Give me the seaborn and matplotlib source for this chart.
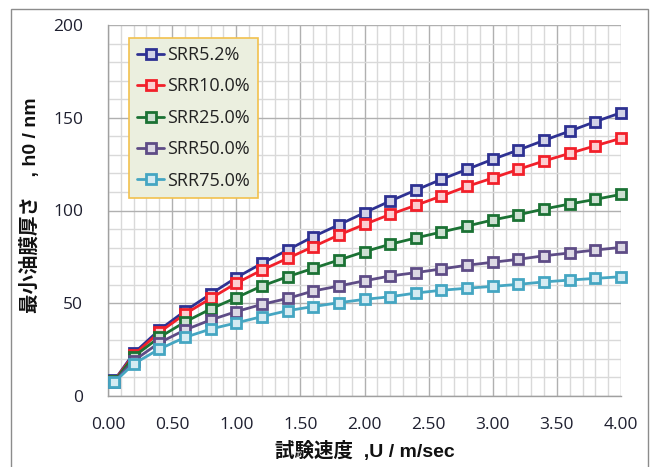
import numpy as np
import pandas as pd
import matplotlib
matplotlib.use("Agg")
import matplotlib.pyplot as plt
from matplotlib.patches import Rectangle
import matplotlib.colors as mcolors
import seaborn as sns

# ---- data ----
speed = [0.05, 0.2, 0.4, 0.6, 0.8, 1.0, 1.2, 1.4, 1.6, 1.8, 2.0,
         2.2, 2.4, 2.6, 2.8, 3.0, 3.2, 3.4, 3.6, 3.8, 4.0]
series_names = ["SRR5.2%", "SRR10.0%", "SRR25.0%", "SRR50.0%", "SRR75.0%"]
srr_5_2 = [8.5, 23.0, 35.6, 45.8, 55.0, 63.8, 71.5, 78.7, 85.9, 92.3, 98.8,
           105.1, 111.0, 116.8, 122.2, 127.6, 132.6, 137.8, 142.8, 147.9, 152.7]
srr_10 = [8.3, 22.1, 34.3, 44.2, 52.6, 60.8, 67.9, 74.2, 80.5, 86.8, 92.5,
          97.9, 102.8, 107.8, 113.0, 117.5, 122.2, 126.7, 130.8, 134.9, 138.9]
srr_25 = [8.0, 21.2, 31.6, 39.9, 46.9, 53.0, 59.3, 64.3, 68.8, 73.3, 77.8,
          81.8, 85.2, 88.4, 91.6, 94.9, 97.7, 100.8, 103.5, 106.0, 108.7]
srr_50 = [7.8, 19.0, 28.7, 35.6, 41.0, 45.5, 49.4, 52.6, 56.6, 59.3, 62.1,
          64.7, 66.5, 68.5, 70.5, 72.1, 73.7, 75.6, 77.1, 78.7, 80.1]
srr_75 = [7.5, 17.3, 25.3, 31.6, 36.1, 39.4, 42.8, 46.0, 48.2, 50.3, 52.1,
          53.5, 55.5, 57.0, 58.1, 59.1, 60.2, 61.5, 62.5, 63.4, 64.3]
all_series = [srr_5_2, srr_10, srr_25, srr_50, srr_75]

x_ticks = [0.0, 0.5, 1.0, 1.5, 2.0, 2.5, 3.0, 3.5, 4.0]
y_ticks = [0, 50, 100, 150, 200]
x_label = "試験速度  ,U / m/sec"
y_label = "最小油膜厚さ\u3000, h0 / nm"

colors = ["#2E3192", "#F2202A", "#1B7234", "#5E4C86", "#45A6C2"]

# ---- style ----
sns.set_style("white")
plt.rcParams["font.family"] = ["Open Sans", "Noto Sans CJK JP", "DejaVu Sans"]

fig = plt.figure(figsize=(6.54, 4.67), dpi=100)
ax = fig.add_axes([108 / 654, 71 / 467, 513 / 654, 371 / 467])

def tint(c, f=0.78):
    r, g, b = mcolors.to_rgb(c)
    return (r + (1 - r) * f, g + (1 - g) * f, b + (1 - b) * f)

for name, vals, c in zip(series_names, all_series, colors):
    df = pd.DataFrame({"speed": speed, "h0": vals})
    sns.lineplot(data=df, x="speed", y="h0", ax=ax, color=c, linewidth=2,
                 marker="s", markersize=6.5, markeredgewidth=2,
                 markeredgecolor=c, markerfacecolor=tint(c),
                 label=name, clip_on=False, zorder=3)

ax.set_xlim(0, 4)
ax.set_ylim(0, 200)
ax.set_xticks(x_ticks)
ax.set_xticklabels([f"{v:.2f}" for v in x_ticks])
ax.set_yticks(y_ticks)
ax.set_yticklabels([str(v) for v in y_ticks])
ax.set_xticks(np.arange(0, 4.0001, 0.1), minor=True)
ax.set_yticks(np.arange(0, 200.001, 10), minor=True)

ax.set_axisbelow(True)
ax.grid(which="minor", color="#D9D9D9", linewidth=1)
ax.grid(which="major", color="#B0B0B0", linewidth=1)

for s in ["top", "right"]:
    ax.spines[s].set_visible(False)
for s in ["left", "bottom"]:
    ax.spines[s].set_color("#A0A0A0")
    ax.spines[s].set_linewidth(1)

ax.tick_params(which="major", direction="out", length=5, width=1,
               color="#A0A0A0", labelsize=12.5, labelcolor="#1F2030")
ax.tick_params(which="minor", length=0)
ax.tick_params(axis="y", pad=13)
ax.tick_params(axis="x", pad=10)

lab_family = ["Liberation Sans", "Noto Sans CJK JP", "DejaVu Sans"]
ax.set_xlabel(x_label, fontsize=14, fontweight="bold", family=lab_family,
              va="center", color="#111111")
ax.xaxis.set_label_coords(0.5, -0.148)
ax.set_ylabel(y_label, fontsize=14, fontweight="bold", family=lab_family,
              va="center", color="#111111")
ax.yaxis.set_label_coords(-0.152, 0.515)

leg = ax.legend(loc="upper left", bbox_to_anchor=(0.041, 0.965),
                fontsize=13, frameon=True, fancybox=False,
                handlelength=1.5, handletextpad=0.15, labelspacing=0.74,
                borderpad=0.45, borderaxespad=0)
leg.get_frame().set_facecolor("#EBEFDF")
leg.get_frame().set_edgecolor("#F2C14E")
leg.get_frame().set_linewidth(1.2)
leg.get_frame().set_alpha(1)
for t in leg.get_texts():
    t.set_color("#222222")

fig.patches.append(Rectangle((11 / 654, -0.05), (648 - 11) / 654, 0.9807 + 0.05,
                             transform=fig.transFigure, fill=False,
                             edgecolor="#8C8C8C", linewidth=1))

fig.savefig("out.png", dpi=100)
